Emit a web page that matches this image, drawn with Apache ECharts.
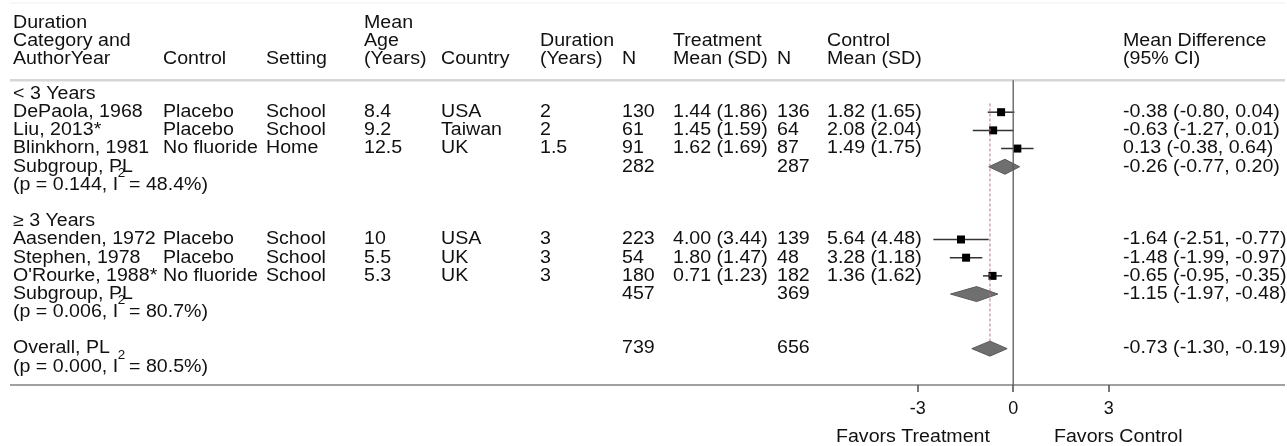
<!DOCTYPE html>
<html><head><meta charset="utf-8">
<script src="https://cdn.jsdelivr.net/npm/echarts@6/dist/echarts.min.js"></script>
<style>html,body{margin:0;padding:0;background:#fff}#c{width:1287px;height:446px}</style>
</head><body><div id="c"></div>
<script>
// ---------------- data ----------------
const groupLabels = ['< 3 Years', '\u2265 3 Years'];
const studyGroup = [0, 0, 0, 1, 1, 1];
const studyNames = ['DePaola, 1968', 'Liu, 2013*', 'Blinkhorn, 1981', 'Aasenden, 1972', 'Stephen, 1978', "O'Rourke, 1988*"];
const controls = ['Placebo', 'Placebo', 'No fluoride', 'Placebo', 'Placebo', 'No fluoride'];
const settings = ['School', 'School', 'Home', 'School', 'School', 'School'];
const meanAges = ['8.4', '9.2', '12.5', '10', '5.5', '5.3'];
const countries = ['USA', 'Taiwan', 'UK', 'USA', 'UK', 'UK'];
const durations = ['2', '2', '1.5', '3', '3', '3'];
const nTreat = [130, 61, 91, 223, 54, 180];
const treatMean = [1.44, 1.45, 1.62, 4.00, 1.80, 0.71];
const treatSD = [1.86, 1.59, 1.69, 3.44, 1.47, 1.23];
const nCtrl = [136, 64, 87, 139, 48, 182];
const ctrlMean = [1.82, 2.08, 1.49, 5.64, 3.28, 1.36];
const ctrlSD = [1.65, 2.04, 1.75, 4.48, 1.18, 1.62];
const md = [-0.38, -0.63, 0.13, -1.64, -1.48, -0.65];
const mdLo = [-0.80, -1.27, -0.38, -2.51, -1.99, -0.95];
const mdHi = [0.04, 0.01, 0.64, -0.77, -0.97, -0.35];

const poolLabels = ['Subgroup, PL', 'Subgroup, PL', 'Overall, PL'];
const poolP = ['0.144', '0.006', '0.000'];
const poolI2 = ['48.4', '80.7', '80.5'];
const poolNT = [282, 457, 739];
const poolNC = [287, 369, 656];
const poolMD = [-0.26, -1.15, -0.73];
const poolLo = [-0.77, -1.97, -1.30];
const poolHi = [0.20, -0.48, -0.19];

const headerText = [
  ['Duration', 'Category and', 'AuthorYear'], ['Control'], ['Setting'],
  ['Mean', 'Age', '(Years)'], ['Country'], ['Duration', '(Years)'], ['N'],
  ['Treatment', 'Mean (SD)'], ['N'], ['Control', 'Mean (SD)'],
  ['Mean Difference', '(95% CI)']
];
const axisTickValues = [-3, 0, 3];
const favorLabels = ['Favors Treatment', 'Favors Control'];

// ---------------- layout ----------------
const W = 1287, H = 446;
const colX = [13, 163, 266, 364, 441, 540, 622, 673, 777, 827, 1123];
const favorX = [836, 1054];
const ROW0 = 94, AXIS_Y = 385, LAST_ROW = 16;
const S = (AXIS_Y - ROW0) / LAST_ROW;
const YMIN = -5;
const gridTop = ROW0 + YMIN * S;
const gridBottom = H - AXIS_Y;
const PX_PER_UNIT = 31.83, ZERO_X = 1013.2, XR = 6;
const FS = 17.5, SCX = 1.12;
const FONT_FAMILY = '"Liberation Sans", Arial, sans-serif';
const TXT = '#111';
const AXIS_COLOR = '#808080';
const TICK_LEN = 7;

const f2 = v => v.toFixed(2);
const ci = (e, l, h) => f2(e) + ' (' + f2(l) + ', ' + f2(h) + ')';

// ---------------- build rows ----------------
const cells = [];   // table text
const studyRows = [], poolRows = [];
const sups = [];
function add(col, row, text, opt) { cells.push(Object.assign({x: colX[col], row, text}, opt || {})); }
const mctx = document.createElement('canvas').getContext('2d');
mctx.font = FS + 'px ' + FONT_FAMILY;
function addPool(k, row) {
  poolRows[k] = row;
  add(0, row, poolLabels[k]); add(6, row, String(poolNT[k])); add(8, row, String(poolNC[k]));
  add(10, row, ci(poolMD[k], poolLo[k], poolHi[k]));
  const pre = '(p = ' + poolP[k] + ', I';
  add(0, row + 1, pre + '  = ' + poolI2[k] + '%)');
  sups.push({x: colX[0] + mctx.measureText(pre).width * SCX - 0.5, row: row + 1 - 11.5 / S, text: '2', size: 12});
}
let r = 0;
for (let g = 0; g < groupLabels.length; g++) {
  add(0, r, groupLabels[g]); r++;
  for (let i = 0; i < studyNames.length; i++) {
    if (studyGroup[i] !== g) continue;
    studyRows[i] = r;
    add(0, r, studyNames[i]); add(1, r, controls[i]); add(2, r, settings[i]);
    add(3, r, meanAges[i]); add(4, r, countries[i]); add(5, r, durations[i]);
    add(6, r, String(nTreat[i])); add(7, r, f2(treatMean[i]) + ' (' + f2(treatSD[i]) + ')');
    add(8, r, String(nCtrl[i])); add(9, r, f2(ctrlMean[i]) + ' (' + f2(ctrlSD[i]) + ')');
    add(10, r, ci(md[i], mdLo[i], mdHi[i]));
    r++;
  }
  addPool(g, r); r += 3;
}
addPool(2, r);
// header
headerText.forEach((lines, c) => {
  lines.forEach((t, j) => add(c, -1.9 - (lines.length - 1 - j), t));
});
// favors labels (below axis)
favorLabels.forEach((t, j) => cells.push({x: favorX[j], row: (437 - ROW0) / S, text: t}));
sups.forEach(s => cells.push(s));

// rules in table space: [x1, x2, row1, row2, styleIndex]
const rules = [
  [10, 1285, (3 - ROW0) / S, (3 - ROW0) / S, 0],
  [10, 1285, -0.75, -0.75, 1],
  [10, 1285, LAST_ROW, LAST_ROW, 2]
];
const ruleStyles = [
  {stroke: '#efefef', lineWidth: 1},
  {stroke: '#d6d6d6', lineWidth: 2.5},
  {stroke: AXIS_COLOR, lineWidth: 1.6},
  {stroke: '#555555', lineWidth: 1.6}
];

// forest
const studyData = md.map((e, i) => [e, mdLo[i], mdHi[i], studyRows[i]]);
const poolData = poolMD.map((e, k) => [e, poolLo[k], poolHi[k], poolRows[k]]);
const DIAM_H = 7.5;
const refLines = [
  [0, -0.75, LAST_ROW, 0],
  [poolMD[2], 0.52, poolRows[2] - DIAM_H / S, 1]
];
const refStyles = [
  {stroke: '#5a5a5a', lineWidth: 1.3},
  {stroke: '#b9757d', lineWidth: 1, lineDash: [3, 2]}
];

const chart = echarts.init(document.getElementById('c'), null, {renderer: 'canvas'});
function buildOption(ruleData) {
  return {
    backgroundColor: '#fff',
    animation: false,
    grid: [
      {left: 0, right: 0, top: gridTop, bottom: gridBottom},
      {left: ZERO_X - XR * PX_PER_UNIT, width: 2 * XR * PX_PER_UNIT, top: gridTop, bottom: gridBottom}
    ],
    xAxis: [
      {gridIndex: 0, type: 'value', min: 0, max: W, show: false},
      {gridIndex: 1, type: 'value', min: -XR, max: XR, interval: 3, position: 'bottom',
        axisLine: {show: false, onZero: false},
        splitLine: {show: false},
        axisTick: {show: false},
        axisLabel: {customValues: axisTickValues, margin: 15, fontSize: 18, color: TXT, fontFamily: FONT_FAMILY,
          formatter: v => (Math.abs(v) === XR ? '' : String(v))}}
    ],
    yAxis: [
      {gridIndex: 0, type: 'value', min: YMIN, max: LAST_ROW, inverse: true, show: false},
      {gridIndex: 1, type: 'value', min: YMIN, max: LAST_ROW, inverse: true, show: false}
    ],
    series: [
      {
        type: 'custom', name: 'rules', xAxisIndex: 0, yAxisIndex: 0, silent: true, clip: false,
        data: ruleData,
        renderItem(params, api) {
          const a = api.coord([api.value(0), api.value(2)]);
          const b = api.coord([api.value(1), api.value(3)]);
          return {type: 'line', shape: {x1: a[0], y1: a[1], x2: b[0], y2: b[1]}, style: ruleStyles[api.value(4)]};
        }
      },
      {
        type: 'custom', name: 'table', xAxisIndex: 0, yAxisIndex: 0, silent: true, clip: false,
        data: cells.map(c => [c.x, c.row]),
        renderItem(params, api) {
          const c = cells[params.dataIndex];
          const p = api.coord([api.value(0), api.value(1)]);
          return {
            type: 'text', x: p[0], y: p[1], scaleX: SCX,
            style: {text: c.text, x: 0, y: 0, fill: TXT, fontSize: c.size || FS, fontFamily: FONT_FAMILY,
              align: 'left', verticalAlign: 'middle'}
          };
        }
      },
      {
        type: 'custom', name: 'refs', xAxisIndex: 1, yAxisIndex: 1, silent: true, clip: false,
        data: refLines,
        renderItem(params, api) {
          const a = api.coord([api.value(0), api.value(1)]);
          const b = api.coord([api.value(0), api.value(2)]);
          const st = api.value(3);
          return {type: 'line', z2: st === 1 ? 1 : 2, shape: {x1: a[0], y1: a[1], x2: b[0], y2: b[1]},
            style: refStyles[st]};
        }
      },
      {
        type: 'custom', name: 'studies', xAxisIndex: 1, yAxisIndex: 1, silent: true, clip: false,
        data: studyData,
        renderItem(params, api) {
          const r = api.value(3);
          const l = api.coord([api.value(1), r]), h = api.coord([api.value(2), r]), e = api.coord([api.value(0), r]);
          const s = 8;
          return {type: 'group', children: [
            {type: 'line', shape: {x1: l[0], y1: l[1], x2: h[0], y2: h[1]}, style: {stroke: '#333', lineWidth: 1.5}},
            {type: 'rect', shape: {x: e[0] - s / 2, y: e[1] - s / 2, width: s, height: s}, style: {fill: '#000'}}
          ]};
        }
      },
      {
        type: 'custom', name: 'pooled', xAxisIndex: 1, yAxisIndex: 1, silent: true, clip: false,
        data: poolData,
        renderItem(params, api) {
          const r = api.value(3);
          const l = api.coord([api.value(1), r]), h = api.coord([api.value(2), r]), e = api.coord([api.value(0), r]);
          return {type: 'polygon', shape: {points: [[l[0], l[1]], [e[0], e[1] - DIAM_H], [h[0], h[1]], [e[0], e[1] + DIAM_H]]},
            style: {fill: '#6f6f6f', stroke: '#5a5a5a', lineWidth: 1}};
        }
      }
    ]
  };
}
chart.setOption(buildOption(rules));
// tick marks: positions from the forest x-axis scale, drawn in table space below the axis rule
const tickRules = axisTickValues.map(v => {
  const px = Math.round(chart.convertToPixel({xAxisIndex: 1}, v));
  return [px, px, LAST_ROW, LAST_ROW + TICK_LEN / S, 3];
});
chart.setOption(buildOption(rules.concat(tickRules)));
</script>
</body></html>
